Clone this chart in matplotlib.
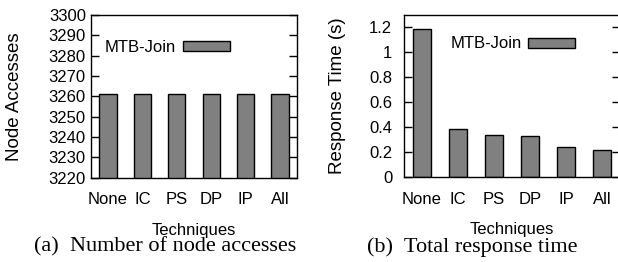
import matplotlib
matplotlib.use("Agg")
import matplotlib.pyplot as plt
from matplotlib.patches import Rectangle

techniques = ["None", "IC", "PS", "DP", "IP", "All"]
node_accesses = [3261, 3261, 3261, 3261, 3261, 3261]
response_time = [1.19, 0.39, 0.34, 0.33, 0.24, 0.22]
yticks_a = [3220, 3230, 3240, 3250, 3260, 3270, 3280, 3290, 3300]
yticks_b = [0, 0.2, 0.4, 0.6, 0.8, 1.0, 1.2]
ytick_labels_b = ["0", "0.2", "0.4", "0.6", "0.8", "1", "1.2"]
series_name = "MTB-Join"

plt.rcParams['font.family'] = ['Liberation Sans', 'DejaVu Sans']

fig = plt.figure(figsize=(6.18, 2.62), dpi=100)
W, H = 618, 262

def px_axes(x0, x1, ytop, ybot):
    return fig.add_axes([x0 / W, 1 - ybot / H, (x1 - x0) / W, (ybot - ytop) / H])

axA = px_axes(90.7, 297.3, 15, 177.7)
axB = px_axes(404, 620, 15, 177.3)

x = list(range(len(techniques)))
bar_kw = dict(width=0.5, color="#808080", edgecolor="black", linewidth=1.0)

for ax in (axA, axB):
    ax.set_xlim(-0.5, len(techniques) - 0.5)
    ax.set_xticks(x)
    ax.set_xticklabels(techniques)
    ax.tick_params(axis='x', length=0, pad=10.5, labelsize=12)
    ax.tick_params(axis='y', direction='in', length=5.5, width=1, right=True, labelsize=12)
    for s in ax.spines.values():
        s.set_linewidth(1.0)
    ax.set_xlabel("Techniques", fontsize=12, labelpad=11)

axA.tick_params(axis='y', pad=3.5)
axB.tick_params(axis='y', pad=8.5)

axA.bar(x, node_accesses, **bar_kw)
axA.set_ylim(3220, 3300)
axA.set_yticks(yticks_a)
axA.set_ylabel("Node Accesses", fontsize=13.5, va='center')
axA.yaxis.set_label_coords((15 - 90.7) / 206.6, 0.5)

axB.bar(x, response_time, **bar_kw)
axB.set_ylim(0, 1.3)
axB.set_yticks(yticks_b)
axB.set_yticklabels(ytick_labels_b)
axB.set_ylabel("Response Time (s)", fontsize=13.5, va='center')
axB.yaxis.set_label_coords((337 - 404) / 216, 0.5)

# legends (gnuplot-style key: text then swatch)
axA.text(0.069, 0.803, series_name, transform=axA.transAxes, fontsize=12, va='center', ha='left')
axA.add_patch(Rectangle((0.446, 0.781), 0.228, 0.061, transform=axA.transAxes,
                        facecolor="#808080", edgecolor="black", linewidth=1.0))
axB.text(0.218, 0.827, series_name, transform=axB.transAxes, fontsize=12, va='center', ha='left')
axB.add_patch(Rectangle((0.574, 0.797), 0.218, 0.061, transform=axB.transAxes,
                        facecolor="#808080", edgecolor="black", linewidth=1.0))

fig.text(165 / W, 1 - 247 / H, "(a)  Number of node accesses", family="Liberation Serif",
         fontsize=16, ha='center', va='center')
fig.text(472 / W, 1 - 247 / H, "(b)  Total response time", family="Liberation Serif",
         fontsize=16, ha='center', va='center')

fig.savefig("out.png", dpi=100)
